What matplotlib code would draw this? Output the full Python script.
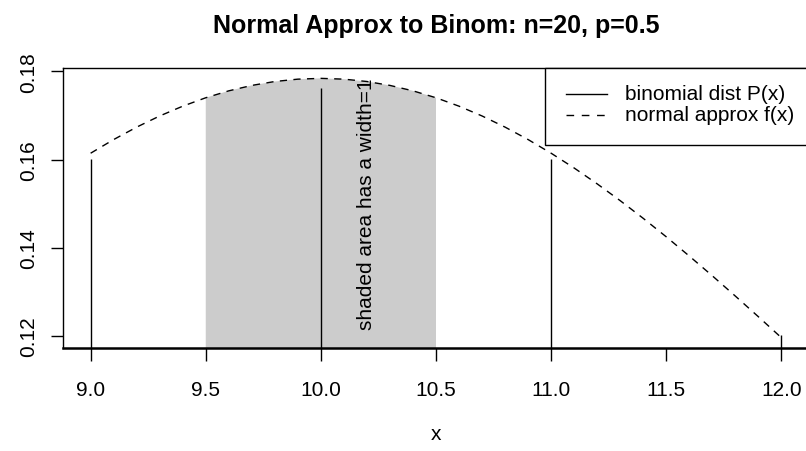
import matplotlib
matplotlib.use("Agg")
import matplotlib.pyplot as plt
from matplotlib.patches import Rectangle
from matplotlib.lines import Line2D
import numpy as np

plt.rcParams['font.family'] = ['Liberation Sans', 'DejaVu Sans']

# binomial pmf (n=20, p=0.5) at the shown x values
binom_x = [9, 10, 11, 12]
binom_p = [0.1602, 0.1762, 0.1602, 0.1201]

# normal approximation curve
curve_x = [9.0, 9.1, 9.2, 9.3, 9.4, 9.5, 9.6, 9.7, 9.8, 9.9, 10.0,
           10.1, 10.2, 10.3, 10.4, 10.5, 10.6, 10.7, 10.8, 10.9, 11.0,
           11.1, 11.2, 11.3, 11.4, 11.5, 11.6, 11.7, 11.8, 11.9, 12.0]
curve_y = [0.16143, 0.16453, 0.16735, 0.16988, 0.17210, 0.17401, 0.17558,
           0.17681, 0.17770, 0.17823, 0.17841, 0.17823, 0.17770, 0.17681,
           0.17558, 0.17401, 0.17210, 0.16988, 0.16735, 0.16453, 0.16143,
           0.15808, 0.15448, 0.15067, 0.14666, 0.14247, 0.13811, 0.13363,
           0.12903, 0.12435, 0.11959]

shade_lo, shade_hi = 9.5, 10.5

x_ticks = [9.0, 9.5, 10.0, 10.5, 11.0, 11.5, 12.0]
y_ticks = [0.12, 0.14, 0.16, 0.18]

title = "Normal Approx to Binom: n=20, p=0.5"
annot = "shaded area has a width=1"
legend_labels = ["binomial dist P(x)", "normal approx f(x)"]

W, H = 806, 452
fig = plt.figure(figsize=(W / 100, H / 100), dpi=100)
L, R, T, B = 63, 809, 69, 349
ax = fig.add_axes([L / W, (H - B) / H, (R - L) / W, (B - T) / H])

dash = (0, (5.2, 4.6))

cx = np.array(curve_x)
cy = np.array(curve_y)
m = (cx >= shade_lo) & (cx <= shade_hi)
ax.fill_between(cx[m], 0, cy[m], color='#CCCCCC', linewidth=0, zorder=1)

ax.vlines(binom_x, 0, binom_p, color='black', linewidth=1.0, zorder=2)
ax.plot(cx, cy, color='black', linewidth=1.0, linestyle=dash, zorder=3)

ax.text(10.2, 0.15, annot, rotation=90, ha='center', va='center', fontsize=15)

ax.set_xlim(8.88, 12.12)
ax.set_ylim(0.11725, 0.18076)
ax.set_xticks(x_ticks)
ax.set_xticklabels([f"{v:.1f}" for v in x_ticks])
ax.set_yticks(y_ticks)
ax.set_yticklabels([f"{v:.2f}" for v in y_ticks], rotation=90, va='center')
ax.tick_params(axis='both', direction='out', length=9, width=1.0,
               labelsize=15)
ax.tick_params(axis='x', pad=14)
ax.tick_params(axis='y', pad=9)
for s in ax.spines.values():
    s.set_linewidth(1.0)
ax.spines['bottom'].set_linewidth(1.8)

ax.set_xlabel("x", fontsize=15, labelpad=18)
fig.text((L + R) / 2 / W, 1 - 26 / H, title, ha='center', va='center',
         fontsize=18, fontweight='bold')

# legend drawn in R style (pixel layout of the box)
def fx(px):
    return px / W

def fy(py):
    return 1 - py / H

lb_left, lb_right, lb_top, lb_bot = 545, 809, 69, 146
fig.add_artist(Rectangle((fx(lb_left), fy(lb_bot)), fx(lb_right) - fx(lb_left),
                         fy(lb_top) - fy(lb_bot), transform=fig.transFigure,
                         facecolor='white', edgecolor='black', linewidth=1.0,
                         zorder=5))
row_y = [95, 116]
styles = ['-', (0, (5.5, 5.5))]
for ry, st, lab in zip(row_y, styles, legend_labels):
    fig.add_artist(Line2D([fx(566), fx(607)], [fy(ry), fy(ry)],
                          transform=fig.transFigure, color='black',
                          linewidth=1.0, linestyle=st, zorder=6))
    fig.text(fx(625), fy(ry), lab, ha='left', va='center', fontsize=15,
             zorder=6)

fig.savefig("out.png", dpi=100)
